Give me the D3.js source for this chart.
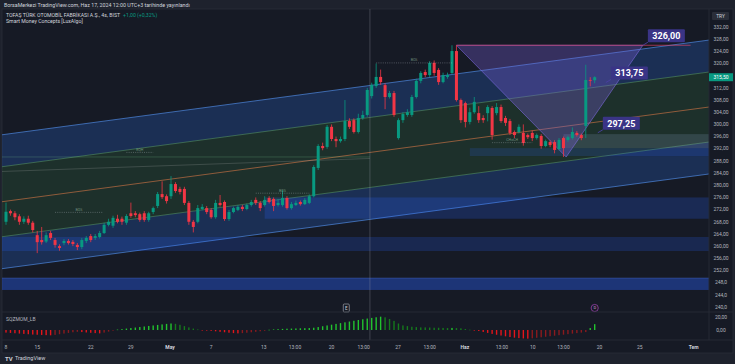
<!DOCTYPE html>
<html><head><meta charset="utf-8">
<script src="https://cdn.jsdelivr.net/npm/d3@7"></script>
<style>html,body{margin:0;padding:0;background:#1e222d;}svg{display:block;font-family:Roboto,"Open Sans","DejaVu Sans",sans-serif;}</style>
</head><body><svg id="c" width="735" height="364"></svg>
<script>
// ---------- DATA ----------
const opens=[268.0,271.5,270.8,269.8,268.0,269.0,267.7,263.6,262.0,261.5,264.3,262.0,260.0,261.0,261.7,261.4,260.4,259.7,261.7,263.3,262.7,263.0,264.3,267.0,266.7,269.0,269.0,267.7,270.8,270.8,270.5,270.8,268.6,271.2,273.2,277.1,276.4,276.4,280.4,278.8,278.8,274.2,268.0,268.0,272.2,272.5,271.9,269.5,274.2,274.5,268.9,271.2,271.9,272.9,272.2,273.5,275.2,274.2,273.5,275.8,275.5,273.5,273.5,275.8,272.5,273.5,274.5,273.8,274.2,276.4,285.7,292.9,292.6,299.2,295.2,294.5,295.2,301.1,301.4,297.5,302.1,303.1,309.3,312.6,315.6,312.9,309.0,310.3,295.5,301.4,303.1,303.1,309.0,314.3,317.2,316.2,320.2,317.9,313.9,315.6,316.9,324.1,308.0,307.0,300.8,304.0,303.7,302.1,303.7,305.4,303.7,305.7,302.1,301.1,297.5,297.5,297.2,296.5,297.2,295.5,296.2,292.9,294.2,294.2,291.9,295.5,294.9,295.5,297.2,296.5,299.5,314.6,314.5];
const highs=[274.3,272.0,271.5,270.5,269.8,270.0,268.3,265.0,266.3,264.5,265.0,262.7,260.6,262.3,262.3,262.0,261.0,262.7,263.3,264.0,264.0,265.0,267.7,269.0,270.0,270.3,269.7,270.5,274.3,271.5,271.0,271.5,271.3,273.0,277.8,281.3,277.0,283.0,281.0,279.5,279.5,274.8,268.6,273.5,273.8,273.2,272.5,275.2,276.8,275.0,271.9,273.0,273.5,273.5,274.0,275.2,276.0,274.8,276.4,276.4,276.0,275.5,278.4,276.4,274.5,275.0,275.0,275.8,277.0,286.6,293.5,294.0,299.8,300.0,296.0,296.0,308.0,302.0,302.0,303.5,304.5,312.0,313.7,320.0,318.0,313.5,311.0,311.0,302.0,304.0,305.0,309.7,315.0,317.5,318.0,320.8,321.0,318.5,317.0,317.0,326.0,326.0,308.5,307.5,305.5,309.0,306.0,303.0,306.3,306.0,307.0,306.5,302.8,301.8,298.0,300.0,300.0,297.0,298.0,297.0,296.8,295.0,294.8,294.8,295.5,296.0,296.3,299.0,297.8,297.0,319.6,315.5,315.8];
const lows=[267.0,270.0,268.5,267.0,267.3,267.0,264.5,257.7,260.5,261.0,262.0,259.5,258.5,260.3,260.5,260.0,258.7,259.0,261.0,261.3,262.0,262.5,264.0,266.5,266.0,267.5,267.0,267.0,269.3,269.5,268.0,268.0,268.0,270.5,272.5,275.5,274.0,275.5,277.5,277.0,273.5,267.0,264.5,267.5,271.8,270.5,269.0,269.0,273.0,268.3,268.3,270.8,271.5,271.5,271.8,273.0,273.5,271.5,273.0,274.0,271.5,273.0,273.0,272.0,272.0,273.2,273.3,273.5,273.8,276.0,285.0,291.5,292.0,294.5,292.5,294.0,294.5,298.5,297.0,297.0,301.5,302.5,308.5,312.0,313.0,305.0,308.5,302.5,295.0,300.5,302.5,302.5,308.5,313.5,315.5,315.5,316.0,313.0,313.5,315.0,316.5,307.5,300.5,299.0,300.0,303.5,300.5,300.5,301.0,295.0,303.0,300.5,299.5,296.5,295.5,297.0,293.0,295.2,294.5,295.0,292.0,292.5,292.5,290.5,291.5,289.3,294.3,295.0,296.0,294.8,295.5,312.5,313.5];
const closes=[271.3,270.8,269.5,268.0,269.0,267.7,265.3,261.3,261.3,263.6,262.7,260.4,259.4,261.7,261.0,260.7,259.7,262.0,262.7,262.0,263.3,264.3,267.0,268.0,269.3,268.0,268.0,269.9,269.9,270.2,268.6,268.6,270.8,272.5,277.1,276.1,274.8,280.4,278.1,277.8,274.2,268.0,266.3,272.5,272.9,271.2,269.5,274.2,273.5,268.9,271.2,272.5,272.9,272.2,273.5,274.5,274.2,272.5,275.2,274.5,273.2,274.2,275.8,272.5,273.8,274.2,273.8,275.2,276.4,286.0,292.9,292.2,299.2,295.2,294.5,295.2,301.1,299.2,297.5,302.1,303.1,311.3,313.0,315.6,313.9,309.0,310.3,303.1,301.4,303.4,304.0,309.0,314.3,316.9,316.2,320.2,316.9,313.9,316.2,316.2,324.1,308.0,301.4,300.8,304.0,307.4,301.4,301.4,305.7,296.5,305.7,301.1,300.5,297.2,296.5,299.2,293.9,295.8,295.5,296.5,292.9,294.5,293.2,291.6,294.9,292.2,295.8,297.5,296.5,295.5,314.6,314.5,315.5];
const momentum=[-4,-4.5,-5,-5.5,-6,-6.5,-7,-7.3,-7.6,-7.9,-8.2,
 -7.5,-6.5,-5.5,-4.5,-3.5,-2.8,
 -3.2,-3.8,-4.3,-4.8,-5.2,
 -4,-2.5,-1,
 0.7,1.4,2.2,3,3.8,4.6,5.4,6.2,7,7.8,8.6,9.4,10,
 9.5,8,6,4,2.2,0.8,
 -0.3,-0.8,-1.3,
 -2,-2.8,-3.5,-4.2,-4.8,-5.2,
 -4.8,-4.2,-3.5,-2.8,-2,-1.2,
 0.4,0.9,1.3,1.7,2,2.2,2.4,2.6,2.8,3,
 3.5,4.5,5.8,7,8.2,9.4,10.6,11.8,13,14.2,15.4,16.5,17.6,18.6,19.6,20.5,
 19.5,17,14,10,7,
 6,5,4.5,4,4,3.8,3.5,3.5,3.2,3,3.2,3,2.5,1.5,
 0.5,-0.3,
 -1.5,-3,-4.5,-6,-7.3,-8.5,-9.7,-10.8,-11.8,-12.5,-13,-13.3,
 -12.8,-12,-11.2,-10.4,-9.6,-8.8,-8,-7.2,-6.4,-5.6,-4.8,-4,-3.2,
 3,9];
const priceTicks=[332,328,324,320,312,308,304,300,296,292,288,284,280,276,272,268,264,260,256,252,248,244,240];
const priceTickLabels=["332,00","328,00","324,00","320,00","312,00","308,00","304,00","300,00","296,00","292,00","288,00","284,00","280,00","276,00","272,00","268,00","264,00","260,00","256,00","252,00","248,0","244,0","240,0"];
const momTicks=[20,0];
const momTickLabels=["20,00","0,00"];
const timeTickIndex=[0,7,19,28,36.8,46,57.8,64.8,73,80.2,87.9,95,102.9,111.2,118.1,125,133.1,142.1,154.2];
const timeTickLabels=["8","15","22","29","May","7","13","13:00","20","13:00","27","13:00","Haz","13:00","10","13:00","20","25","Tem"];
const channelIdx=[-1.35,157.6];
const channelMid=[274.5,305.7];
const channelDev=[22,11.5];
const zoneStart=[58,-1.35,-1.35,125,104];
const zoneEnd=[157.6,157.6,157.6,157.6,157.6];
const zoneTop=[276.0,263.0,249.5,296.8,292.2];
const zoneBottom=[269.0,258.4,245.6,292.2,289.6];
const smcStart=[11,56,27,83,109];
const smcEnd=[21.7,68,33,100,118];
const smcPrice=[271.1,277.4,290.8,320.2,294.0];
const smcLabel=["BOS","BOS","EQH","BOS","CHoCH"];
const patternIdx=[101,125.6,142.8];
const patternPrice=[326,289.3,326];
const targetIdx=[142.8,134.5,132.7];
const targetValue=[326.00,313.75,297.25];
const targetLabel=["326,00","313,75","297,25"];
const eventIdx=[76.3,132];
const eventType=["E","D"];
const lastPrice=315.50;
const cursorIdx=81.6;

// ---------- LAYOUT ----------
const svg=d3.select('#c');
const L=2,R=709,T=9,MB=312,IB=340,AX=353,W=735,H=364;
const x=d3.scaleLinear().domain([0,132]).range([6,594.7]);
const y=d3.scaleLinear().domain([240,332]).range([307,27]);
const ym=d3.scaleLinear().domain([0,20]).range([330,317]);
const green='#089981',red='#f23645',txt='#b2b5be';

svg.append('rect').attr('width',W).attr('height',H).attr('fill','#1e222d');
svg.append('rect').attr('x',L).attr('y',T).attr('width',733-L).attr('height',AX-T).attr('fill','#161a25').attr('stroke','#2a2e39').attr('stroke-width',0.8);

const defs=svg.append('defs');
defs.append('clipPath').attr('id','mc').append('rect').attr('x',L).attr('y',T).attr('width',R-L).attr('height',MB-T);
defs.append('clipPath').attr('id','ic').append('rect').attr('x',L).attr('y',MB).attr('width',R-L).attr('height',IB-MB);
const main=svg.append('g').attr('clip-path','url(#mc)');

// channel
function chanY(k,off){return y(channelMid[k]+off);}
function band(a,b,fill){
  const pts=[[x(channelIdx[0]),chanY(0,a)],[x(channelIdx[1]),chanY(1,a)],[x(channelIdx[1]),chanY(1,b)],[x(channelIdx[0]),chanY(0,b)]];
  main.append('polygon').attr('points',pts.map(p=>p.join(',')).join(' ')).attr('fill',fill);
}
band(channelDev[0],channelDev[1],'rgba(41,110,220,0.26)');
band(channelDev[1],-channelDev[1],'rgba(76,175,80,0.15)');
band(-channelDev[1],-channelDev[0],'rgba(41,110,220,0.26)');
function cline(off,col,w){
  main.append('line').attr('x1',x(channelIdx[0])).attr('y1',chanY(0,off)).attr('x2',x(channelIdx[1])).attr('y2',chanY(1,off)).attr('stroke',col).attr('stroke-width',w);
}
cline(channelDev[0],'rgba(80,140,230,0.75)',0.9);
cline(-channelDev[0],'rgba(80,140,230,0.75)',0.9);
cline(channelDev[1],'rgba(100,170,110,0.6)',0.8);
cline(-channelDev[1],'rgba(100,170,110,0.6)',0.8);
cline(0,'rgba(220,120,70,0.75)',0.8);

// zones
const zoneFill=['rgba(41,98,255,0.22)','rgba(41,98,255,0.20)','rgba(41,98,255,0.38)','rgba(150,170,210,0.18)','rgba(41,98,255,0.16)'];
zoneTop.forEach((t,k)=>{
  main.append('rect').attr('x',x(zoneStart[k])).attr('y',y(t)).attr('width',x(zoneEnd[k])-x(zoneStart[k])).attr('height',y(zoneBottom[k])-y(t)).attr('fill',zoneFill[k]);
});
main.append('line').attr('x1',x(zoneStart[2])).attr('x2',x(zoneEnd[2])).attr('y1',y(zoneTop[2])).attr('y2',y(zoneTop[2])).attr('stroke','rgba(90,140,255,0.5)').attr('stroke-width',0.6);

// faint trailing lines
main.append('line').attr('x1',x(-1.35)).attr('x2',x(cursorIdx)).attr('y1',y(289.3)).attr('y2',y(289.3)).attr('stroke','rgba(120,200,140,0.35)').attr('stroke-width',0.7);
main.append('line').attr('x1',x(-1.35)).attr('x2',x(cursorIdx)).attr('y1',y(284.5)).attr('y2',y(288.8)).attr('stroke','rgba(190,190,190,0.3)').attr('stroke-width',0.7);

// pattern triangle
const tri=patternIdx.map((d,k)=>[x(d),y(patternPrice[k])]);
main.append('polygon').attr('points',tri.map(p=>p.join(',')).join(' ')).attr('fill','rgba(120,95,215,0.33)').attr('stroke','rgba(130,110,230,0.7)').attr('stroke-width',0.8);
main.append('line').attr('x1',x(patternIdx[0])).attr('x2',x(153.5)).attr('y1',y(326)).attr('y2',y(326)).attr('stroke','rgba(230,70,110,0.8)').attr('stroke-width',0.8);

// candles
const cg=main.append('g');
closes.forEach((c,i)=>{
  const o=opens[i],up=c>=o,col=up?green:red,cx=x(i);
  cg.append('line').attr('x1',cx).attr('x2',cx).attr('y1',y(highs[i])).attr('y2',y(lows[i])).attr('stroke',col).attr('stroke-width',0.8);
  const top=y(Math.max(o,c)),bot=y(Math.min(o,c));
  cg.append('rect').attr('x',cx-1.5).attr('width',3).attr('y',top).attr('height',Math.max(0.8,bot-top)).attr('fill',col);
});

// SMC structure lines
smcPrice.forEach((p,k)=>{
  const yy=y(p);
  main.append('line').attr('x1',x(smcStart[k])).attr('x2',x(smcEnd[k])).attr('y1',yy).attr('y2',yy).attr('stroke','rgba(200,205,215,0.55)').attr('stroke-width',0.6).attr('stroke-dasharray','1,1.2');
  main.append('text').attr('x',(x(smcStart[k])+x(smcEnd[k]))/2).attr('y',yy-1.5).attr('text-anchor','middle').attr('font-size',3.6).attr('fill','rgba(150,190,160,0.7)').text(smcLabel[k]);
});

// target labels
targetValue.forEach((v,k)=>{
  const ax=x(targetIdx[k]),ay=y(v),bx=ax+5,bw=37,bh=13,by=ay-16;
  main.append('line').attr('x1',ax).attr('y1',ay).attr('x2',bx).attr('y2',by+bh).attr('stroke','#4a3fa0').attr('stroke-width',0.9);
  main.append('rect').attr('x',bx).attr('y',by).attr('width',bw).attr('height',bh).attr('fill','#3a3486').attr('rx',1);
  main.append('text').attr('x',bx+bw/2).attr('y',by+bh/2).attr('dy','0.36em').attr('text-anchor','middle').attr('font-size',9).attr('font-weight',700).attr('fill','#ffffff').text(targetLabel[k]);
});

// cursor vertical line
svg.append('line').attr('x1',x(cursorIdx)).attr('x2',x(cursorIdx)).attr('y1',T).attr('y2',IB).attr('stroke','rgba(150,155,170,0.45)').attr('stroke-width',0.7);

// event icons
eventIdx.forEach((d,k)=>{
  const ex=x(d);
  if(eventType[k]==='E'){
    svg.append('rect').attr('x',ex-3).attr('y',304).attr('width',6).attr('height',8).attr('rx',1).attr('fill','#161a25').attr('stroke','#b2b5be').attr('stroke-width',0.6);
    svg.append('text').attr('x',ex).attr('y',308).attr('dy','0.35em').attr('text-anchor','middle').attr('font-size',4.5).attr('fill','#d1d4dc').text('E');
  } else {
    svg.append('circle').attr('cx',ex).attr('cy',308).attr('r',3.6).attr('fill','#161a25').attr('stroke','#ab47bc').attr('stroke-width',0.7);
    svg.append('text').attr('x',ex).attr('y',308).attr('dy','0.35em').attr('text-anchor','middle').attr('font-size',4).attr('fill','#ce93d8').text('D');
  }
});

// pane separators
svg.append('line').attr('x1',L).attr('x2',733).attr('y1',MB).attr('y2',MB).attr('stroke','#2a2e39').attr('stroke-width',0.8);
svg.append('line').attr('x1',L).attr('x2',733).attr('y1',IB).attr('y2',IB).attr('stroke','#2a2e39').attr('stroke-width',0.8);
svg.append('line').attr('x1',R).attr('x2',R).attr('y1',T).attr('y2',IB).attr('stroke','#2a2e39').attr('stroke-width',0.8);

// momentum histogram
const ig=svg.append('g').attr('clip-path','url(#ic)');
momentum.forEach((v,i)=>{
  const prev=i>0?momentum[i-1]:0;
  const col=v>=0?(v>prev?'#22c32e':'#157a1c'):(v<prev?'#e3151b':'#8a1a1e');
  const y0=ym(0),y1=ym(v);
  ig.append('rect').attr('x',x(i)-0.7).attr('width',1.4).attr('y',Math.min(y0,y1)).attr('height',Math.max(0.6,Math.abs(y1-y0))).attr('fill',col);
});
svg.append('text').attr('x',6).attr('y',319).attr('dy','0.35em').attr('font-size',5).attr('fill',txt).text('SQZMOM_LB');

// price axis
priceTicks.forEach((p,k)=>{
  svg.append('text').attr('x',721).attr('y',y(p)).attr('dy','0.35em').attr('text-anchor','middle').attr('font-size',5).attr('fill',txt).text(priceTickLabels[k]);
});
momTicks.forEach((p,k)=>{
  svg.append('text').attr('x',721).attr('y',ym(p)).attr('dy','0.35em').attr('text-anchor','middle').attr('font-size',5).attr('fill',txt).text(momTickLabels[k]);
});
svg.append('rect').attr('x',R).attr('y',y(lastPrice)-4).attr('width',24).attr('height',8).attr('fill',green);
svg.append('text').attr('x',721).attr('y',y(lastPrice)).attr('dy','0.35em').attr('text-anchor','middle').attr('font-size',5).attr('fill','#ffffff').text('315,50');
svg.append('rect').attr('x',712).attr('y',12).attr('width',17).attr('height',8).attr('rx',1).attr('fill','#2a2e39');
svg.append('text').attr('x',720.5).attr('y',16).attr('dy','0.35em').attr('text-anchor','middle').attr('font-size',4.8).attr('fill','#d1d4dc').text('TRY');

// time axis
timeTickIndex.forEach((d,k)=>{
  const isMonth=['May','Haz','Tem'].includes(timeTickLabels[k]);
  svg.append('text').attr('x',x(d)).attr('y',347).attr('dy','0.35em').attr('text-anchor','middle').attr('font-size',5).attr('font-weight',isMonth?700:400).attr('fill',isMonth?'#d1d4dc':txt).text(timeTickLabels[k]);
});

// header and legend
svg.append('text').attr('x',4).attr('y',5).attr('dy','0.35em').attr('font-size',5.3).attr('fill','#d1d4dc').text('BorsaMerkezi TradingView.com, Haz 17, 2024 12:00 UTC+3 tarihinde yayınlandı');
const lg=svg.append('text').attr('x',6).attr('y',15).attr('dy','0.35em').attr('font-size',5.2).attr('fill','#d1d4dc');
lg.append('tspan').text('TOFAŞ TÜRK OTOMOBİL FABRİKASI A.Ş., 4s, BIST');
lg.append('tspan').attr('dx',3).attr('fill',green).text('+1,00 (+0,32%)');
svg.append('text').attr('x',6).attr('y',21).attr('dy','0.35em').attr('font-size',5.2).attr('fill','#d1d4dc').text('Smart Money Concepts [LuxAlgo]');

// footer
svg.append('text').attr('x',5).attr('y',358.5).attr('dy','0.35em').attr('font-size',6).attr('font-weight',700).attr('fill','#d1d4dc').text('TV');
svg.append('text').attr('x',15).attr('y',358.5).attr('dy','0.35em').attr('font-size',5.5).attr('fill','#d1d4dc').text('TradingView');
</script></body></html>
